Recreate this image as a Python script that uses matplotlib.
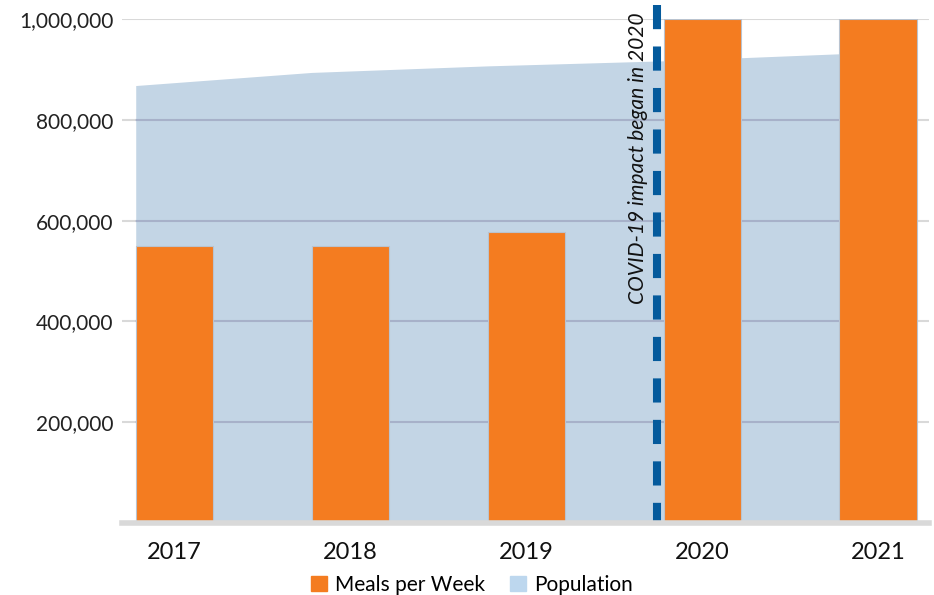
import numpy as np
import matplotlib
matplotlib.use("Agg")
import matplotlib.pyplot as plt
from matplotlib.patches import Patch
from matplotlib.ticker import FuncFormatter

plt.rcParams["font.family"] = ["Lato", "DejaVu Sans"]

years = ["2017", "2018", "2019", "2020", "2021"]
meals_per_week = [550000, 550000, 577000, 1000000, 1000000]
population = [868000, 894000, 907000, 917000, 931000]
y_ticks = [200000, 400000, 600000, 800000, 1000000]
covid_note = "COVID-19 impact began in 2020"

ORANGE = "#f47c20"
AREA = "#c3d5e5"
AREA_LEGEND = "#bdd7ee"
GRID = "#d9d9d9"
GRID_ON_AREA = "#a7b1c9"
DASH = "#045a9c"

W, H = 934, 595
fig = plt.figure(figsize=(W / 100, H / 100), dpi=100)
ax = fig.add_axes([122 / W, 1 - 523 / H, (929 - 122) / W, (523 - 19) / H])

x = np.arange(len(years))
bar_w = 0.438

# population area runs from the left edge of each bar
area_x = x - bar_w / 2
area = ax.fill_between(area_x, 0, population, color=AREA, lw=0, zorder=1)

for t in y_ticks:
    ax.axhline(t, color=GRID, lw=1.5, zorder=0.5)
    # darker grid where it passes over the population area
    ln = ax.axhline(t, color=GRID_ON_AREA, lw=1.5, zorder=1.5)
    ln.set_clip_path(area.get_paths()[0], ax.transData)

ax.bar(x, meals_per_week, width=bar_w, color=ORANGE, edgecolor="#b9c3cf",
       linewidth=0.8, zorder=2)

# COVID marker between 2019 and 2020, dashes start at the top
covid_x = 2.744
ax.plot([covid_x, covid_x], [1028000, 0], color=DASH, lw=5.8,
        linestyle=(0, (3.0, 2.15)), solid_capstyle="butt", dash_capstyle="butt",
        clip_on=False, zorder=3)
ax.text(covid_x - 0.05, 1012000, covid_note, rotation=90, ha="right", va="top",
        fontsize=15.1, style="italic", color="#111111", zorder=4, clip_on=False)

ax.set_xlim(-0.297, 4.29)
ax.set_ylim(0, 1000000)
ax.set_yticks(y_ticks)
ax.yaxis.set_major_formatter(FuncFormatter(lambda v, p: f"{int(v):,}"))
ax.set_xticks(x)
ax.set_xticklabels(years)
ax.tick_params(axis="y", length=0, pad=6, labelsize=15, labelcolor="#222222")
ax.tick_params(axis="x", length=0, pad=14, labelsize=17, labelcolor="#111111")

for side in ["top", "right", "left"]:
    ax.spines[side].set_visible(False)
ax.spines["bottom"].set_color("#d9d9d9")
ax.spines["bottom"].set_linewidth(4)
ax.spines["bottom"].set_zorder(5)

handles = [Patch(color=ORANGE, label="Meals per Week"),
           Patch(color=AREA_LEGEND, label="Population")]
fig.legend(handles=handles, loc="center", bbox_to_anchor=(472 / W, 1 - 585 / H),
           ncol=2, frameon=False, fontsize=15, handlelength=0.75, handleheight=0.75,
           handletextpad=0.4, columnspacing=1.2, borderpad=0)

fig.savefig("out.png", dpi=100)
